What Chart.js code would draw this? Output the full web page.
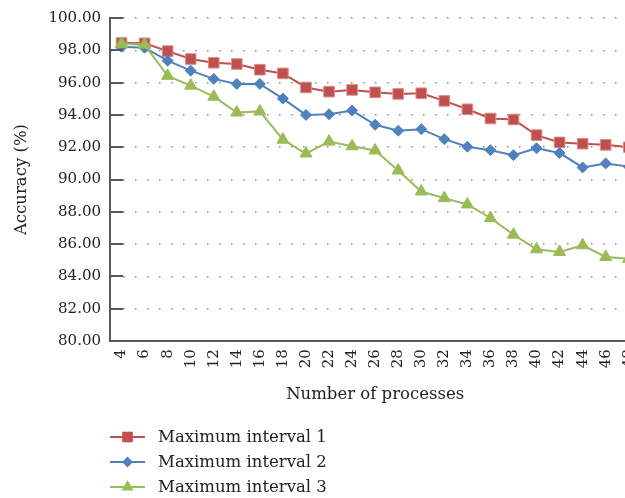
<!DOCTYPE html>
<html lang="en">
<head>
  <meta charset="UTF-8">
  <title>Accuracy vs number of processes</title>
  <style>
    html, body { margin: 0; padding: 0; background: #fff; overflow: hidden; }
    #wrap { width: 655px; height: 498px; }
  </style>
</head>
<body>
  <div id="wrap">
    <canvas id="graphic" width="655" height="498"></canvas>
  </div>

  <script src="https://cdn.jsdelivr.net/npm/chart.js"></script>

  <script>
    const processes = [4, 6, 8, 10, 12, 14, 16, 18, 20, 22, 24, 26, 28, 30, 32, 34, 36, 38, 40, 42, 44, 46, 48];
    const interval1 = [98.45, 98.43, 97.95, 97.46, 97.23, 97.15, 96.80, 96.57, 95.70, 95.44, 95.55, 95.40, 95.30, 95.34, 94.87, 94.35, 93.78, 93.72, 92.75, 92.30, 92.22, 92.15, 92.00];
    const interval2 = [98.22, 98.16, 97.36, 96.74, 96.23, 95.92, 95.92, 95.01, 94.00, 94.04, 94.27, 93.39, 93.02, 93.12, 92.50, 92.03, 91.82, 91.51, 91.94, 91.64, 90.75, 91.00, 90.80];
    const interval3 = [98.40, 98.35, 96.42, 95.81, 95.13, 94.15, 94.22, 92.47, 91.61, 92.35, 92.06, 91.80, 90.56, 89.26, 88.85, 88.46, 87.62, 86.59, 85.68, 85.52, 85.93, 85.21, 85.10];
    const seriesNames = ["Maximum interval 1", "Maximum interval 2", "Maximum interval 3"];

    const AXIS = "#595959";
    const FONT = "'DejaVu Serif', 'Liberation Serif', serif";

    // short tick marks pointing into the plot, like the Excel original
    const innerTicks = {
      id: "innerTicks",
      afterDatasetsDraw(chart) {
        const ctx = chart.ctx;
        const y = chart.scales.y;
        const left = chart.chartArea.left;
        ctx.save();
        ctx.strokeStyle = AXIS;
        ctx.lineWidth = 2;
        y.ticks.forEach(t => {
          const py = Math.round(y.getPixelForValue(t.value));
          ctx.beginPath();
          ctx.moveTo(left, py);
          ctx.lineTo(left + 13, py);
          ctx.stroke();
        });
        ctx.restore();
      }
    };

    function marker(ctx, style, x, y, r, color) {
      ctx.fillStyle = color;
      ctx.beginPath();
      if (style === "rect") {
        const s = r * Math.SQRT1_2;
        ctx.rect(x - s, y - s, 2 * s, 2 * s);
      } else if (style === "rectRot") {
        ctx.moveTo(x, y - r); ctx.lineTo(x + r, y); ctx.lineTo(x, y + r); ctx.lineTo(x - r, y);
        ctx.closePath();
      } else {
        ctx.moveTo(x, y - r);
        ctx.lineTo(x + r * 0.866, y + r / 2);
        ctx.lineTo(x - r * 0.866, y + r / 2);
        ctx.closePath();
      }
      ctx.fill();
    }

    // vertical legend under the axis title
    const stackedLegend = {
      id: "stackedLegend",
      afterDraw(chart) {
        const ctx = chart.ctx;
        const x0 = chart.chartArea.left;
        const top = chart.scales.x.bottom + 28;
        ctx.save();
        ctx.font = "16.5px " + FONT;
        ctx.textBaseline = "middle";
        chart.data.datasets.forEach((ds, i) => {
          const y = top + i * 25;
          ctx.strokeStyle = ds.borderColor;
          ctx.lineWidth = 2;
          ctx.beginPath();
          ctx.moveTo(x0, y);
          ctx.lineTo(x0 + 35, y);
          ctx.stroke();
          marker(ctx, ds.pointStyle, x0 + 17.5, y, ds.pointRadius, ds.backgroundColor);
          ctx.fillStyle = "#222";
          ctx.fillText(ds.label, x0 + 48, y + 1);
        });
        ctx.restore();
      }
    };

    Chart.defaults.font.family = FONT;
    Chart.defaults.color = "#222";

    new Chart(document.getElementById("graphic"), {
      type: "line",
      data: {
        labels: processes,
        datasets: [
          {
            label: seriesNames[0], data: interval1, order: 2,
            borderColor: "#C0504D", backgroundColor: "#C0504D",
            pointStyle: "rect", pointRadius: 7.5, pointBorderWidth: 1, pointBorderColor: "#D98E8C",
            borderWidth: 2
          },
          {
            label: seriesNames[1], data: interval2, order: 1,
            borderColor: "#4F81BD", backgroundColor: "#4F81BD",
            pointStyle: "rectRot", pointRadius: 5.5, pointBorderWidth: 1,
            borderWidth: 2
          },
          {
            label: seriesNames[2], data: interval3, order: 0,
            borderColor: "#9BBB59", backgroundColor: "#9BBB59",
            pointStyle: "triangle", pointRadius: 7, pointBorderWidth: 1,
            borderWidth: 2
          }
        ]
      },
      options: {
        responsive: false,
        animation: false,
        devicePixelRatio: 1,
        layout: { padding: { top: 16, right: 11, left: 0, bottom: 89 } },
        plugins: {
          legend: { display: false },
          tooltip: { enabled: false }
        },
        scales: {
          x: {
            offset: true,
            grid: { drawOnChartArea: false, drawTicks: false },
            border: { color: AXIS, width: 2 },
            ticks: { autoSkip: false, minRotation: 90, maxRotation: 90, padding: 8, font: { size: 15 } },
            title: { display: true, text: "Number of processes", font: { size: 16.5 }, padding: { top: 9, bottom: 4 } }
          },
          y: {
            min: 80,
            max: 100,
            afterFit: s => { s.width = 110; },
            grid: { drawTicks: false, color: "#8a8a8a", lineWidth: 1.5 },
            border: { color: AXIS, width: 2, dash: [1.5, 10.5] },
            ticks: { stepSize: 2, padding: 9, font: { size: 15 }, callback: v => Number(v).toFixed(2) },
            title: { display: true, text: "Accuracy (%)", font: { size: 16.5 }, padding: { top: 12, bottom: 6 } }
          }
        }
      },
      plugins: [innerTicks, stackedLegend]
    });
  </script>
</body>
</html>
